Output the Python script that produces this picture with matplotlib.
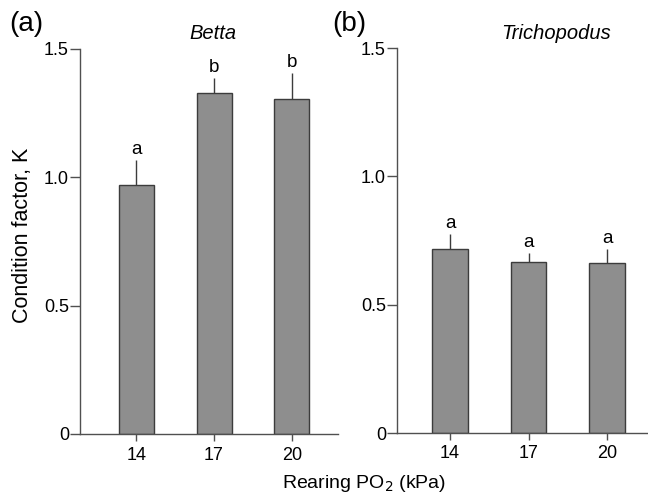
import numpy as np
import matplotlib.pyplot as plt

plt.rcParams['font.family'] = ['Liberation Sans', 'DejaVu Sans']

# Dados
po2 = ['14', '17', '20']
betta_k = [0.97, 1.325, 1.305]
betta_err = [0.095, 0.06, 0.10]
betta_letras = ['a', 'b', 'b']
tricho_k = [0.716, 0.665, 0.663]
tricho_err = [0.058, 0.037, 0.053]
tricho_letras = ['a', 'a', 'a']

cor_barra = '#8e8e8e'
cor_borda = '#3c3c3c'
cor_eixo = '#505050'

fig = plt.figure(figsize=(6.48, 5.0), dpi=100)
ax1 = fig.add_axes([0.1235, 0.132, 0.398, 0.771])
ax2 = fig.add_axes([0.6127, 0.134, 0.3873, 0.770])


def painel(ax, valores, erros, letras, xlim):
    x = np.arange(len(po2))
    ax.bar(x, valores, width=0.45, color=cor_barra, edgecolor=cor_borda, linewidth=1.0, zorder=2)
    ax.errorbar(x, valores, yerr=[np.zeros(len(erros)), erros], fmt='none',
                ecolor=cor_borda, elinewidth=1.0, capsize=0, zorder=1)
    for xi, v, e, l in zip(x, valores, erros, letras):
        ax.annotate(l, (xi, v + e), xytext=(0, 1.5), textcoords='offset points',
                    ha='center', va='bottom', fontsize=13.5)
    ax.set_xlim(*xlim)
    ax.set_ylim(0, 1.5)
    ax.set_xticks(x)
    ax.set_xticklabels(po2)
    ax.set_yticks([0, 0.5, 1.0, 1.5])
    ax.set_yticklabels(['0', '0.5', '1.0', '1.5'])
    for s in ['top', 'right']:
        ax.spines[s].set_visible(False)
    for s in ['left', 'bottom']:
        ax.spines[s].set_color(cor_eixo)
        ax.spines[s].set_linewidth(1.0)
    ax.tick_params(axis='y', direction='out', length=7, width=1, color=cor_eixo,
                   labelsize=13, pad=1)
    ax.tick_params(axis='x', direction='out', length=5, width=1, color=cor_eixo,
                   labelsize=13, pad=4)


painel(ax1, betta_k, betta_err, betta_letras, (-0.72, 2.59))
painel(ax2, tricho_k, tricho_err, tricho_letras, (-0.675, 2.52))

fig.text(213 / 648, 1 - 33 / 500, 'Betta', ha='center', va='center', fontsize=14.5, style='italic')
fig.text(556 / 648, 1 - 33 / 500, 'Trichopodus', ha='center', va='center', fontsize=14.5, style='italic')
fig.text(0.034, 1 - 235 / 500, 'Condition factor, K', ha='center', va='center',
         rotation=90, fontsize=15.5)
fig.text(0.562, 0.034, 'Rearing PO$_2$ (kPa)', ha='center', va='center', fontsize=14)
fig.text(0.040, 0.952, '(a)', ha='center', va='center', fontsize=20)
fig.text(0.539, 0.952, '(b)', ha='center', va='center', fontsize=20)

plt.savefig('out.png', format='png')
